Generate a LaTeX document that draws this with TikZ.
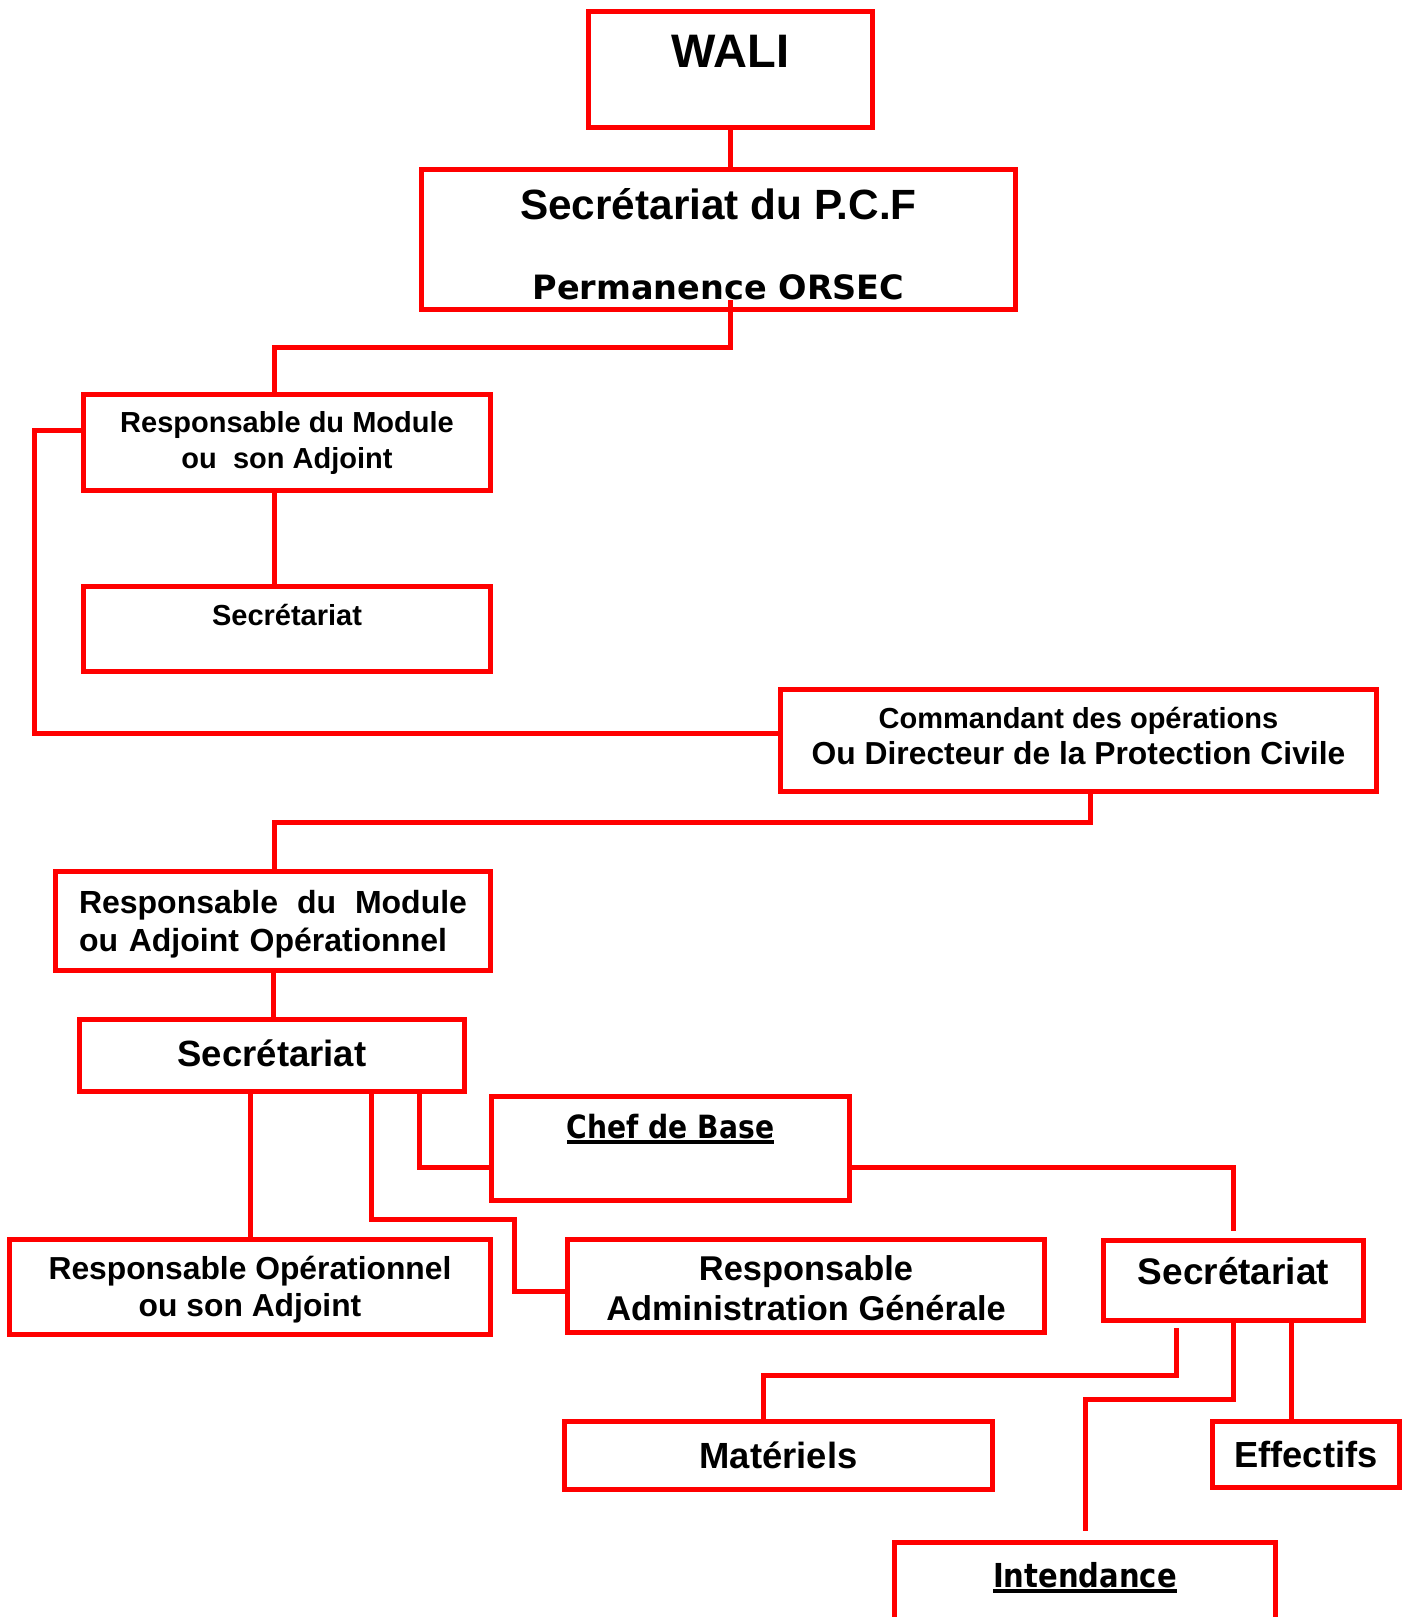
\documentclass[tikz,border=0pt]{standalone}
\usepackage{fontspec}
\setmainfont{Liberation Sans}
\newfontfamily\verdfont{DejaVu Sans}
\newfontfamily\tahfont[FakeStretch=0.88]{DejaVu Sans}
\definecolor{orgred}{RGB}{255, 0, 0}
\newcommand\fsz[2]{\fontsize{#1}{#2}\selectfont}
\newcommand\ulbar[1]{\setbox0=\hbox{#1}\rlap{\rule[-6pt]{\wd0}{4pt}}\box0}
\tikzset{
  orgbox/.style 2 args={rectangle, draw=orgred, line width=5pt, fill=white, inner sep=0pt,
                        align=center, minimum width=#1, minimum height=#2},
  txt/.style 2 args={font=\bfseries\fsz{#1}{#2}},
  tah/.style 2 args={font=\tahfont\bfseries\fsz{#1}{#2}},
  link/.style={draw=orgred, line width=5pt},
}

\begin{document}
\begin{tikzpicture}[x=1pt, y=-1pt]
        \useasboundingbox (0,0) rectangle (1410,1617);

        \node[orgbox={284pt}{116pt}, txt={47}{56}, text height=34pt, text depth=38pt] (wali) at (730.5,69.5) {WALI};
        \node[orgbox={594pt}{140pt}, txt={42.3}{80}] (pcf) at (718.5,239.5)
              {\rule{0pt}{41pt}Secrétariat du P.C.F\\{\verdfont\fsz{33.5}{80}Permanence ORSEC}};
        \node[orgbox={407pt}{96pt}, txt={29}{36}] (rm1) at (287,442.5) {Responsable du Module\\ou\ \ son Adjoint};
        \node[orgbox={407pt}{85pt}, txt={29}{36}, text height=22pt, text depth=30pt] (sec1) at (287,629) {Secrétariat};
        \node[orgbox={596pt}{102pt}, txt={29}{36}] (cdo) at (1078.5,740.5)
              {Commandant des opérations\\{\fsz{31.8}{36}Ou Directeur de la Protection Civile\rule[-10pt]{0pt}{10pt}}};
        \node[orgbox={435pt}{99pt}, txt={32}{38}, text width=388pt, align=left] (rm2) at (273,921)
              {\rule{0pt}{30.5pt}Responsable\hfill du\hfill Module\\ou Adjoint Opérationnel};
        \node[orgbox={385pt}{72pt}, txt={36.5}{44}, text height=27pt, text depth=6pt] (sec2) at (272,1055.5) {Secrétariat};
        \node[orgbox={358pt}{104pt}, tah={32}{40}, text height=23.5pt, text depth=44.5pt] (chef) at (670.5,1148.5) {\ulbar{Chef de Base}};
        \node[orgbox={481pt}{95pt}, txt={31.8}{37}] (ro) at (250,1287) {\rule{0pt}{29pt}Responsable Opérationnel\\ou son Adjoint};
        \node[orgbox={477pt}{93pt}, txt={34.4}{40}] (ag) at (806,1286) {\rule{0pt}{30pt}Responsable\\Administration Générale};
        \node[orgbox={260pt}{80pt}, txt={37}{44}, text height=27pt, text depth=20pt] (sec3) at (1233.5,1280.5) {Secrétariat};
        \node[orgbox={428pt}{68pt}, txt={36.4}{44}] (mat) at (778.5,1455.5) {Matériels};
        \node[orgbox={187pt}{66pt}, txt={36.3}{44}] (eff) at (1306,1454.5) {Effectifs};
        \node[orgbox={381pt}{95pt}, tah={33}{40}, text height=24pt, text depth=30pt] (int) at (1085,1590) {\ulbar{Intendance}};

        % Liaisons
        \draw[link] (wali.south) -- (wali.south |- pcf.north);
        \draw[link] ([xshift=12pt,yshift=12pt]pcf.south) -- ++(0,47) -| ([xshift=-13pt]rm1.north);
        \draw[link] ([xshift=-13pt]rm1.south) -- ([xshift=-13pt]sec1.north);
        \draw[link] ([yshift=12pt]rm1.west) -- ++(-47,0) |- ([yshift=7pt]cdo.west);
        \draw[link] ([xshift=11.5pt]cdo.south) -- ++(0,28.5) -| ([xshift=1pt]rm2.north);
        \draw[link] (rm2.south) -- (rm2.south |- sec2.north);
        \draw[link] ([xshift=-22pt]sec2.south) -- ([xshift=-22pt]sec2.south |- ro.north);
        \draw[link] ([xshift=99pt]sec2.south) -- ++(0,125.5) -- ++(143,0) |- ([yshift=-5pt]ag.west);
        \draw[link] ([xshift=147pt]sec2.south) |- ([yshift=-18.5pt]chef.west);
        \draw[link] ([yshift=-18.5pt]chef.east) -| ([yshift=7pt]sec3.north);
        \draw[link] ([xshift=-57.5pt,yshift=-5pt]sec3.south) -- ++(0,47.5) -| ([xshift=-15.5pt]mat.north);
        \draw[link] (sec3.south) -- ++(0,76) -| ([yshift=9.5pt]int.north);
        \draw[link] ([xshift=57.5pt]sec3.south) -- ([xshift=57.5pt]sec3.south |- eff.north);
\end{tikzpicture}
\end{document}
